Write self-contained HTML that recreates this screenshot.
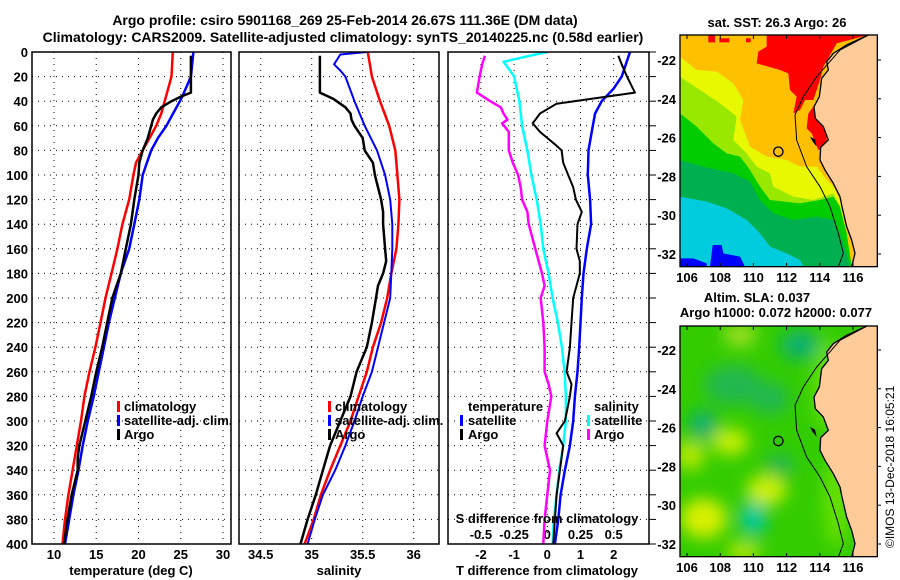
<!DOCTYPE html>
<html><head><meta charset="utf-8">
<style>
html,body{margin:0;padding:0;background:#fff;}
svg{display:block;font-family:"Liberation Sans",sans-serif;font-weight:bold;}
</style></head>
<body>
<svg id="fig" width="900" height="580" viewBox="0 0 900 580" xmlns="http://www.w3.org/2000/svg">
<defs>
<clipPath id="c1"><rect x="32" y="52" width="199" height="492"/></clipPath>
<clipPath id="c2"><rect x="239" y="52" width="200" height="492"/></clipPath>
<clipPath id="c3"><rect x="448" y="52" width="201" height="492"/></clipPath>
<clipPath id="m1"><rect x="60" y="105" width="592" height="695"/></clipPath>
<clipPath id="m2"><rect x="60" y="123" width="592" height="692"/></clipPath>
<filter id="blur" x="-50%" y="-50%" width="200%" height="200%"><feGaussianBlur stdDeviation="25"/></filter>
<g id="land">
<polygon fill="#FFCC99" points="625,105 560,135 520,160 500,185 505,210 485,235 478,290 462,320 466,355 490,380 505,420 482,442 480,480 495,510 520,550 540,590 546,620 560,680 575,720 585,760 575,800 660,800 660,95"/>
<polyline fill="none" stroke="#000" stroke-width="4" points="625,105 560,135 520,160 500,185 505,210 485,235 478,290 462,320 466,355 490,380 505,420 482,442 480,480 495,510 520,550 540,590 546,620 560,680 575,720 585,760 575,800"/>
<polyline fill="none" stroke="#000" stroke-width="3" points="625,105 540,150 470,230 430,290 405,345 410,420 440,500 480,560 510,620 535,700 550,760 535,800"/>
<polygon fill="#000" points="450,410 458,425 470,440 465,418"/>
</g>
</defs>

<text x="345" y="25" font-size="14" text-anchor="middle">Argo profile: csiro 5901168_269 25-Feb-2014 26.67S 111.36E (DM data)</text>
<text x="343" y="42" font-size="14" text-anchor="middle">Climatology: CARS2009. Satellite-adjusted climatology: synTS_20140225.nc (0.58d earlier)</text>

<g id="axes"></g>
<g id="series"></g>

<rect x="32" y="52" width="199" height="492" fill="none" stroke="#000" stroke-width="1.5"/>
<rect x="239" y="52" width="200" height="492" fill="none" stroke="#000" stroke-width="1.5"/>
<rect x="448" y="52" width="201" height="492" fill="none" stroke="#000" stroke-width="1.5"/>

<text x="131" y="575" font-size="13" text-anchor="middle">temperature (deg C)</text>
<text x="339" y="575" font-size="13" text-anchor="middle">salinity</text>
<text x="547" y="575" font-size="13" text-anchor="middle">T difference from climatology</text>
<text x="547" y="523" font-size="13" text-anchor="middle">S difference from climatology</text>

<g font-size="13">
<rect x="117" y="401" width="3" height="11" fill="#f00"/><text x="124" y="411">climatology</text>
<rect x="117" y="415" width="3" height="11" fill="#00f"/><text x="124" y="425">satellite-adj. clim.</text>
<rect x="117" y="429" width="3" height="11" fill="#000"/><text x="124" y="439">Argo</text>
</g>
<g font-size="13">
<rect x="328" y="401" width="3" height="11" fill="#f00"/><text x="335" y="411">climatology</text>
<rect x="328" y="415" width="3" height="11" fill="#00f"/><text x="335" y="425">satellite-adj. clim.</text>
<rect x="328" y="429" width="3" height="11" fill="#000"/><text x="335" y="439">Argo</text>
</g>
<g font-size="13">
<text x="468" y="411">temperature</text>
<rect x="460" y="415" width="3" height="11" fill="#00f"/><text x="468" y="425">satellite</text>
<rect x="460" y="429" width="3" height="11" fill="#000"/><text x="468" y="439">Argo</text>
<text x="594" y="411">salinity</text>
<rect x="587" y="415" width="3" height="11" fill="#0ff"/><text x="594" y="425">satellite</text>
<rect x="587" y="429" width="3" height="11" fill="#f0f"/><text x="594" y="439">Argo</text>
</g>

<text x="777" y="27" font-size="13" text-anchor="middle">sat. SST: 26.3 Argo: 26</text>
<g transform="translate(660,0) scale(0.33333)">
<g clip-path="url(#m1)">
<rect x="60" y="105" width="600" height="700" fill="#FFC000"/>
<polygon fill="#FF0000" points="320,105 625,105 530,130 490,200 480,240 460,300 435,300 420,330 400,340 410,290 390,270 385,220 360,210 325,200 290,190 295,155 320,140"/>
<polygon fill="#FF0000" points="445,340 460,320 470,345 500,400 500,440 475,450 455,400 440,385"/>
<rect x="145" y="105" width="20" height="22" fill="#f00"/><rect x="178" y="115" width="30" height="12" fill="#f00"/><rect x="258" y="115" width="14" height="12" fill="#f00"/>
<polygon fill="#E8F800" points="60,170 110,210 170,215 220,250 250,300 240,360 270,440 320,470 380,480 420,500 470,500 500,540 520,560 540,600 560,700 575,800 60,800"/>
<polygon fill="#99E800" points="60,230 120,270 180,310 230,350 220,420 260,460 290,500 330,520 340,560 400,590 460,600 520,580 540,620 560,700 575,800 60,800"/>
<polygon fill="#00CC00" points="60,340 110,380 160,430 200,460 240,470 270,510 300,560 330,600 420,610 480,600 520,590 540,620 560,700 575,800 60,800"/>
<polygon fill="#00B050" points="60,480 130,500 220,520 270,545 300,600 340,640 400,660 470,650 520,660 540,700 560,760 570,800 60,800"/>
<polygon fill="#00CCDD" points="60,590 140,605 200,625 260,660 300,700 330,740 380,760 420,780 430,800 60,800"/>
<polygon fill="#0000FF" points="150,800 158,735 185,735 190,760 240,770 255,800"/>
<polygon fill="#0000FF" points="60,775 100,775 140,790 140,800 60,800"/>
<use href="#land"/>
<circle cx="355" cy="455" r="14" fill="none" stroke="#000" stroke-width="4"/>
</g>
<rect x="60" y="105" width="592" height="695" fill="none" stroke="#000" stroke-width="4"/>
</g>

<text x="757" y="302" font-size="13" text-anchor="middle">Altim. SLA: 0.037</text>
<text x="776" y="317" font-size="13" text-anchor="middle">Argo h1000: 0.072 h2000: 0.077</text>
<g transform="translate(660,285) scale(0.33333)">
<g clip-path="url(#m2)">
<rect x="60" y="123" width="600" height="700" fill="#33CC00"/>
<g filter="url(#blur)">
<ellipse cx="220" cy="300" rx="90" ry="60" fill="#20B850"/>
<ellipse cx="330" cy="340" rx="60" ry="50" fill="#20B850"/>
<ellipse cx="420" cy="180" rx="60" ry="45" fill="#10B070"/>
<ellipse cx="130" cy="420" rx="45" ry="45" fill="#10B070"/>
<ellipse cx="280" cy="700" rx="40" ry="55" fill="#00C8A0"/>
<ellipse cx="360" cy="540" rx="45" ry="35" fill="#20B850"/>
<ellipse cx="130" cy="700" rx="70" ry="60" fill="#D8F000"/>
<ellipse cx="210" cy="470" rx="55" ry="40" fill="#C8F000"/>
<ellipse cx="90" cy="510" rx="45" ry="45" fill="#B8E800"/>
<ellipse cx="320" cy="615" rx="60" ry="45" fill="#D0F000"/>
<ellipse cx="250" cy="800" rx="50" ry="30" fill="#B8E800"/>
<ellipse cx="240" cy="150" rx="50" ry="35" fill="#A0E020"/>
<ellipse cx="500" cy="300" rx="40" ry="140" fill="#66E000"/>
<ellipse cx="530" cy="650" rx="40" ry="140" fill="#66E000"/>
</g>
<g transform="translate(0,16)"><use href="#land"/></g>
<circle cx="355" cy="468" r="14" fill="none" stroke="#000" stroke-width="4"/>
</g>
<rect x="60" y="123" width="592" height="692" fill="none" stroke="#000" stroke-width="4"/>
</g>

<g id="mapaxes" font-size="13"></g>
<text transform="translate(894,548) rotate(-90)" font-size="12" font-weight="normal">©IMOS 13-Dec-2018 16:05:21</text>
</svg>

<script>
const depthTicks = [0,20,40,60,80,100,120,140,160,180,200,220,240,260,280,300,320,340,360,380,400];
const tempTicks = [10,15,20,25,30];
const salTicks = [34.5,35,35.5,36];
const tDiffTicks = [-2,-1,0,1,2];
const sDiffTicks = [-0.5,-0.25,0,0.25,0.5];
const sDiffTickLabels = ["-0.5","-0.25","0","0.25","0.5"];

const climTDepth = [0,20,40,50,60,70,80,90,100,120,140,160,180,200,220,240,260,280,300,320,340,360,380,400];
const climT = [24.06,23.9,23.1,22.7,22.1,21.3,20.5,19.7,19.4,18.9,18.1,17.5,16.8,16.1,15.5,14.9,14.2,13.6,13.2,12.7,12.2,11.7,11.3,11.0];
const satTDepth = [0,20,36,40,50,60,70,80,90,100,120,140,160,180,200,220,240,260,280,300,320,340,360,380,400];
const satT = [26.5,26.2,25.2,24.9,24.1,23.3,22.3,21.5,21.0,20.5,20.1,19.5,18.9,17.9,17.2,16.5,15.9,15.3,14.7,14.0,13.4,12.9,12.3,11.8,11.3];
const argoTDepth = [3,20,33,36,40,45,50,55,60,70,80,90,100,120,140,160,180,200,220,240,260,280,300,320,330,340,360,380,400];
const argoT = [26.2,26.2,26.2,25.1,23.9,22.7,22.1,21.7,21.5,21.1,20.5,20.1,20.0,19.5,19.1,18.5,17.9,16.9,16.3,15.7,15.0,14.4,13.7,13.0,12.8,12.8,12.1,11.6,11.2];

const climSDepth = [0,20,40,60,80,100,120,140,160,180,200,220,240,260,280,300,320,340,360,380,400];
const climS = [35.55,35.59,35.67,35.76,35.82,35.84,35.86,35.85,35.83,35.78,35.74,35.68,35.60,35.54,35.46,35.38,35.28,35.18,35.09,35.02,34.93];
const satSDepth = [0,2,10,15,20,40,60,80,100,120,140,160,180,200,220,240,260,280,300,320,340,360,380,400];
const satS = [35.54,35.28,35.22,35.28,35.33,35.42,35.52,35.64,35.72,35.77,35.79,35.79,35.78,35.77,35.71,35.65,35.59,35.50,35.42,35.33,35.23,35.11,35.03,34.96];
const argoSDepth = [3,20,33,38,45,50,55,60,70,80,90,100,110,120,130,140,160,170,180,190,200,220,240,260,280,300,320,340,360,380,400];
const argoS = [35.08,35.08,35.08,35.21,35.33,35.38,35.39,35.42,35.50,35.52,35.60,35.62,35.65,35.68,35.70,35.70,35.72,35.73,35.70,35.65,35.63,35.59,35.54,35.44,35.38,35.28,35.18,35.11,35.04,34.96,34.89];

const dTArgoDepth = [3,10,20,33,38,42,50,58,65,75,80,90,100,110,120,130,140,160,170,180,190,200,220,240,260,270,280,300,310,320,340,360,380,400];
const dTArgo = [2.14,2.24,2.4,2.64,1.34,0.28,-0.22,-0.44,-0.22,0.23,0.43,0.48,0.63,0.78,0.86,1.04,0.91,0.88,0.98,0.98,0.88,0.78,0.73,0.68,0.58,0.73,0.68,0.53,0.28,0.48,0.38,0.28,0.23,0.18];
const dTSatDepth = [0,20,30,40,50,60,80,100,120,140,160,180,200,220,240,260,280,300,320,340,360,380,400];
const dTSat = [2.49,2.24,1.99,1.64,1.44,1.37,1.24,1.22,1.29,1.32,1.19,1.09,1.04,1.0,0.96,0.91,0.83,0.78,0.68,0.53,0.4,0.33,0.23];
const dSSatDepth = [0,3,8,15,20,40,60,80,100,120,140,160,180,200,220,240,260,280,300,320,340,360,380,400];
const dSSat = [0,-0.13,-0.33,-0.28,-0.25,-0.21,-0.19,-0.15,-0.12,-0.08,-0.05,-0.03,0.01,0.04,0.08,0.11,0.13,0.14,0.14,0.12,0.09,0.07,0.05,0.04];
const dSArgoDepth = [3,10,20,33,40,45,50,55,58,65,80,90,100,110,120,130,140,160,180,190,200,220,240,260,270,280,300,320,340,360,380,400];
const dSArgo = [-0.47,-0.49,-0.51,-0.53,-0.43,-0.35,-0.33,-0.30,-0.34,-0.29,-0.29,-0.26,-0.22,-0.20,-0.19,-0.15,-0.14,-0.09,-0.04,-0.02,-0.05,-0.03,-0.02,-0.02,0.01,0.03,0,-0.02,0.02,0,-0.02,-0.03];

const lonTicks = [106,108,110,112,114,116];
const latTicks = [-22,-24,-26,-28,-30,-32];

const yD = d => 52 + d * 1.23;
const xT = t => 54 + (t - 10) * 8.45;
const xS = s => 311.7 + (s - 35) * 102;
const xdT = v => 547.3 + v * 33.2;
const xdS = v => 547.3 + v * 132.8;
const lonX = lon => 687 + (lon - 106) * 16.6;
const lat1Y = lat => 60 + (-22 - lat) * 19.4;
const lat2Y = lat => 350 + (-22 - lat) * 19.4;

const NS = "http://www.w3.org/2000/svg";
const axes = document.getElementById('axes');
const series = document.getElementById('series');
const mapaxes = document.getElementById('mapaxes');
function mk(tag, attrs, parent) {
  const e = document.createElementNS(NS, tag);
  for (const k in attrs) e.setAttribute(k, attrs[k]);
  parent.appendChild(e);
  return e;
}

depthTicks.forEach(d => {
  [[32,231],[239,439],[448,649]].forEach(p => {
    const g = mk('line', {x1:p[0], x2:p[1], y1:yD(d), y2:yD(d), stroke:'#000', 'stroke-width':1, 'stroke-dasharray':'1,5'}, axes);
    
    
  });
  const tk = mk('line', {x1:649, x2:656, y1:yD(d), y2:yD(d), stroke:'#000', 'stroke-width':1}, axes);
  
  
  const t = mk('text', {x:28, y:yD(d)+5, 'font-size':13, 'text-anchor':'end'}, axes);
  t.textContent = d;
  
  
});
function vgrid(ticks, fx, labels, ly) {
  ticks.forEach((v, i) => {
    const g = mk('line', {x1:fx(v), x2:fx(v), y1:52, y2:544, stroke:'#000', 'stroke-width':1, 'stroke-dasharray':'1,5'}, axes);
    
    
    const t = mk('text', {x:fx(v), y:ly, 'font-size':13, 'text-anchor':'middle'}, axes);
    t.textContent = labels ? labels[i] : v;
    
    
  });
}
vgrid(tempTicks, xT, null, 559);
vgrid(salTicks, xS, null, 559);
vgrid(tDiffTicks, xdT, null, 559);
sDiffTicks.forEach((v, i) => {
  const t = mk('text', {x:xdS(v), y:539, 'font-size':13, 'text-anchor':'middle'}, axes);
  t.textContent = sDiffTickLabels[i];
  
  
});

function line(depths, vals, fx, color, w, clip, name) {
  const pts = depths.map((d, i) => fx(vals[i]).toFixed(1) + ',' + yD(d).toFixed(1)).join(' ');
  const p = mk('polyline', {points:pts, fill:'none', stroke:color, 'stroke-width':w, 'clip-path':'url(#' + clip + ')', 'stroke-linejoin':'round'}, series);
  
  
}
line(climTDepth, climT, xT, '#f00', 2.5, 'c1', 'climatology-temperature-line');
line(satTDepth, satT, xT, '#00f', 2.5, 'c1', 'satellite-temperature-line');
line(argoTDepth, argoT, xT, '#000', 2.5, 'c1', 'argo-temperature-line');
line(climSDepth, climS, xS, '#f00', 2.5, 'c2', 'climatology-salinity-line');
line(satSDepth, satS, xS, '#00f', 2, 'c2', 'satellite-salinity-line');
line(argoSDepth, argoS, xS, '#000', 2.5, 'c2', 'argo-salinity-line');
line(dSSatDepth, dSSat, xdS, '#0ff', 2.5, 'c3', 'satellite-s-diff-line');
line(dSArgoDepth, dSArgo, xdS, '#f0f', 2.5, 'c3', 'argo-s-diff-line');
line(dTSatDepth, dTSat, xdT, '#00f', 2.5, 'c3', 'satellite-t-diff-line');
line(dTArgoDepth, dTArgo, xdT, '#000', 2, 'c3', 'argo-t-diff-line');

lonTicks.forEach(lon => {
  [[267,282,35],[557,572,326]].forEach(r => {
    const t = mk('text', {x:lonX(lon), y:r[1], 'font-size':13, 'text-anchor':'middle'}, mapaxes);
    t.textContent = lon;
    
    
    [[r[0]-4, r[0]], [r[2], r[2]+4]].forEach(yy => {
      const k = mk('line', {x1:lonX(lon), x2:lonX(lon), y1:yy[0], y2:yy[1], stroke:'#000'}, mapaxes);
      
      
    });
  });
});
latTicks.forEach(lat => {
  [lat1Y, lat2Y].forEach(f => {
    const t = mk('text', {x:676, y:f(lat)+5, 'font-size':13, 'text-anchor':'end'}, mapaxes);
    t.textContent = lat;
    
    
    const k = mk('line', {x1:877, x2:881, y1:f(lat), y2:f(lat), stroke:'#000'}, mapaxes);
    
    
  });
});
</script>
</body></html>
